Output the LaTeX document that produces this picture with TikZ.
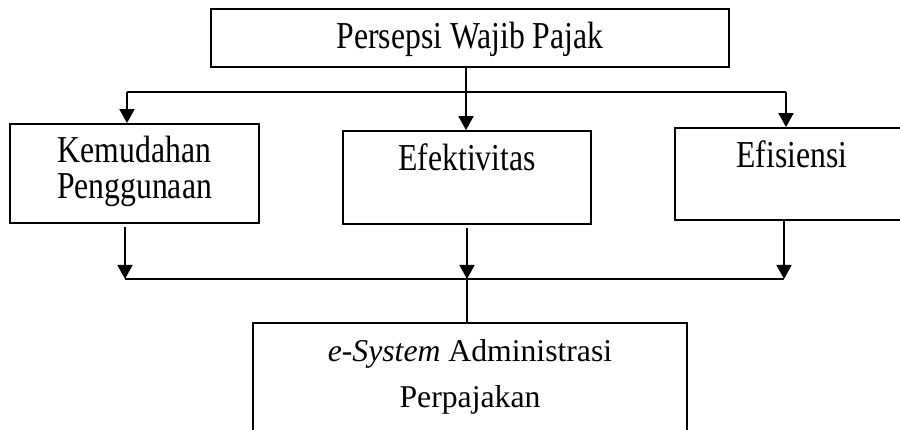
\documentclass[tikz,border=0pt]{standalone}
\usepackage{fontspec}
\usepackage{graphicx}
\setmainfont{Liberation Serif}
\usetikzlibrary{arrows.meta}
\newcommand{\tallt}[1]{\scalebox{1}[1.2]{#1}}
\begin{document}
\begin{tikzpicture}[x=1pt,y=-1pt,
  box/.style={draw, line width=1.8pt, rectangle, inner sep=0pt},
  txt/.style={inner sep=0pt, anchor=base, font=\fontsize{31.7}{36}\selectfont},
  link/.style={line width=1.8pt},
  arr/.style={line width=1.8pt, -{Triangle[width=15pt,length=14pt]}}]
\clip (0,0) rectangle (900,430);
% boxes
\node[box, minimum width=518pt, minimum height=58pt] (top) at (470,38) {};
\node[box, minimum width=249pt, minimum height=99pt] (left) at (134.5,173.5) {};
\node[box, minimum width=248pt, minimum height=93pt] (mid) at (467,177.5) {};
\node[box, minimum width=235pt, minimum height=92pt] (right) at (792.5,174) {};
\node[box, minimum width=434pt, minimum height=157pt] (bot) at (470,401.5) {};
% texts
\node[txt] (t0) at (470,49) {\tallt{Persepsi Wajib Pajak}};
\node[txt] (t1a) at (134.5,163) {\tallt{Kemudahan}};
\node[txt] (t1b) at (134.5,199) {\tallt{Penggunaan}};
\node[txt] (t2) at (467,171) {\tallt{Efektivitas}};
\node[txt] (t3) at (792,168) {\tallt{Efisiensi}};
\node[txt] (t4a) at (470,362) {\textit{e-System} Administrasi};
\node[txt] (t4b) at (470,407) {Perpajakan};
% junctions
\coordinate (jl) at (127,92);
\coordinate (jt) at (466,92);
\coordinate (jr) at (786,92);
\coordinate (sl) at (125,227);
\coordinate (sm) at (467,228);
\coordinate (sr) at (784,221);
\coordinate (bl) at (125,279);
\coordinate (bm) at (467,279);
\coordinate (br) at (784,279);
% top distribution
\draw[link] (jt |- top.south) -- (jt);
\draw[link] (jl) -- (jr);
\draw[arr] (jl) -- (jl |- left.north);
\draw[arr] (jt) -- (jt |- mid.north);
\draw[arr] (jr) -- (jr |- right.north);
% bottom collection
\draw[arr] (sl) -- (bl);
\draw[arr] (sm) -- (bm);
\draw[arr] (sr) -- (br);
\draw[link] (bl) -- (br);
\draw[line width=1.2pt] (bm) -- (bm |- bot.north);
\end{tikzpicture}
\end{document}
